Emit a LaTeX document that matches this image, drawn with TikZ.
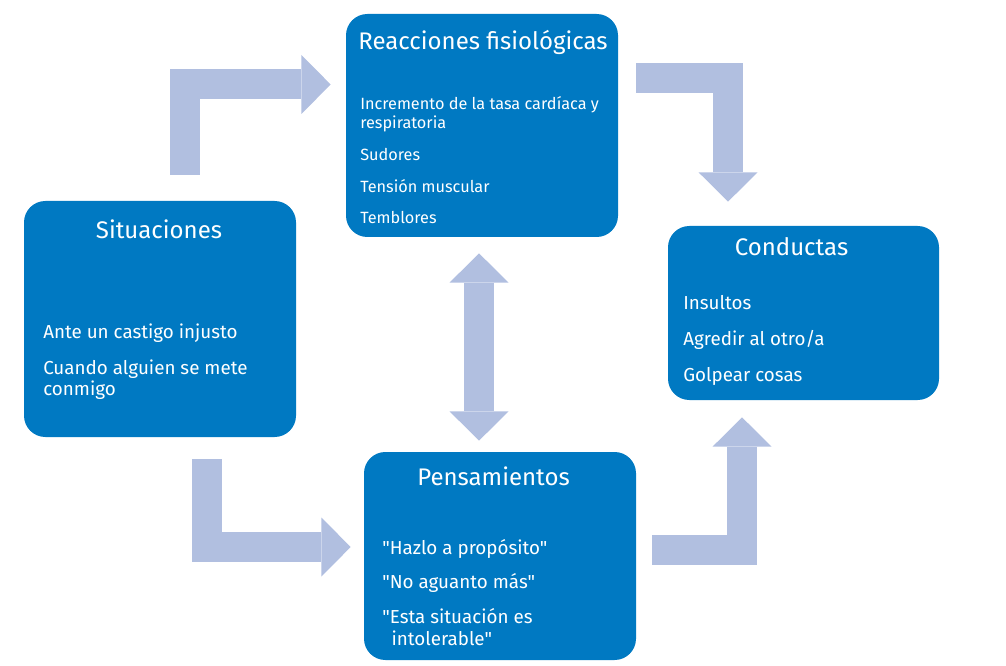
\documentclass[tikz,border=0pt]{standalone}
\usepackage{fontspec}
\setmainfont{Fira Sans}[Ligatures=TeXOff]
\usetikzlibrary{arrows.meta,calc,positioning}
\definecolor{boxblue}{RGB}{0,121,194}
\definecolor{arrowblue}{RGB}{177,191,224}
\tikzset{x=0.75pt, y=-0.75pt, % one unit is one pixel, y runs downwards
every node/.style={text=white, inner sep=0pt}, % white text on the blue boxes
big/.style={line width=22.5pt, draw=arrowblue, line join=miter}, % the wide pale arrows
Head/.tip={Triangle[width=44.25pt, length=22.1pt, line width=0pt]}, % their heads
}

\begin{document}
\begin{tikzpicture}[
	BOX/.style args = {#1/#2}{rectangle, rounded corners=16pt, fill=boxblue, minimum width=#1, minimum height=#2},
	TITLE/.style={font=\fontsize{18}{22}\selectfont},
	ITEMS/.style={align=left, anchor=north west, font=\fontsize{14.1}{15.75}\selectfont}]
\useasboundingbox (0,0) rectangle (1006,666);
\node[BOX=204pt/167.25pt] (reac) at (482,125.5) {};
\node[BOX=204pt/177pt] (sit) at (160,319) {};
\node[BOX=203.25pt/130.5pt] (cond) at (803.5,313) {};
\node[BOX=204pt/156pt] (pens) at (500,556) {};
% titles
\node[TITLE] (reacT) at ($(reac.north)+(1,29)$) {Reacciones fisiológicas};
\node[TITLE] (sitT) at ($(sit.north)+(-1,29)$) {Situaciones};
\node[TITLE] (condT) at ($(cond.north)+(-12,21)$) {Conductas};
\node[TITLE] (pensT) at ($(pens.north)+(-6.5,25)$) {Pensamientos};
% lists
\node[ITEMS, font=\fontsize{12.2}{14.25}\selectfont] (reacL) at (360,96.5) {Incremento de la tasa cardíaca y\\respiratoria\\[9.5pt]Sudores\\[9.5pt]Tensión muscular\\[9.5pt]Temblores};
\node[ITEMS] (sitL) at (43,324) {Ante un castigo injusto\\[11.25pt]Cuando alguien se mete\\conmigo};
\node[ITEMS] (condL) at (683,295) {Insultos\\[11.25pt]Agredir al otro/a\\[11.25pt]Golpear cosas};
\node[ITEMS, font=\fontsize{14.1}{16.5}\selectfont] (pensL) at (382,539) {"Hazlo a propósito"\\[9.5pt]"No aguanto más"\\[9.5pt]"Esta situación es\\\hspace{7pt}intolerable"};
% arrow ends
\coordinate (sitOut) at ($(sit.north)+(25,-26)$);
\coordinate (reacIn) at ($(reac.west)+(-15,-41)$);
\coordinate (reacOut) at ($(reac.east)+(18,-47.5)$);
\coordinate (condIn) at ($(cond.north)+(-75.5,-24)$);
\coordinate (reacDown) at ($(reac.south)+(-3,16)$);
\coordinate (pensUp) at ($(pens.north)+(-21,-11)$);
\coordinate (sitDown) at ($(sit.south)+(46.5,22)$);
\coordinate (pensIn) at ($(pens.west)+(-13,-9)$);
\coordinate (pensOut) at ($(pens.east)+(16,-6.5)$);
\coordinate (condUp) at ($(cond.south)+(-61.5,17)$);
\draw[big, -Head] (sitOut) |- (reacIn);
\draw[big, -Head] (reacOut) -| (condIn);
\draw[big, Head-Head] (reacDown) -- (pensUp);
\draw[big, -Head] (sitDown) |- (pensIn);
\draw[big, -Head] (pensOut) -| (condUp);
\end{tikzpicture}
\end{document}
